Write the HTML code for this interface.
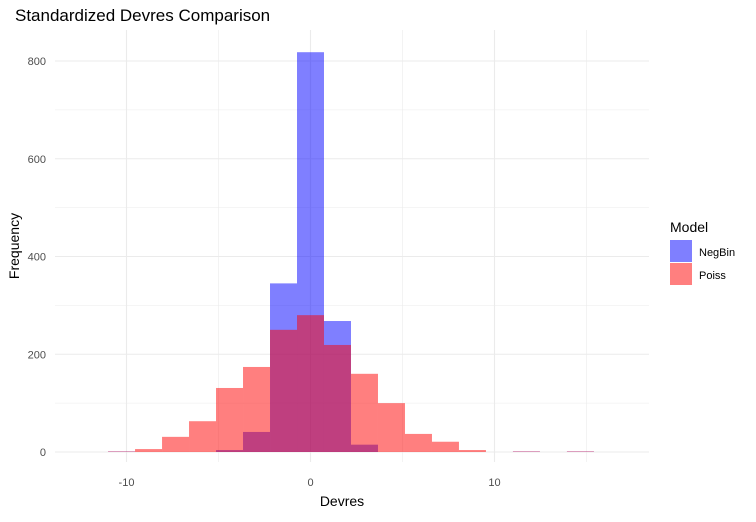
<!DOCTYPE html>
<html><head><meta charset="utf-8"><style>
body{margin:0;background:#fff;font-family:"Liberation Sans",sans-serif}
svg text{font-family:"Liberation Sans",sans-serif}
</style></head><body>
<svg id="chart" width="756" height="517">
<rect width="756" height="517" fill="#fff"/>
<g id="grid"></g><g id="bars"></g><g id="axes"></g>
<text x="15" y="21" font-size="17" fill="#000">Standardized Devres Comparison</text>
<text x="342" y="506" font-size="14" text-anchor="middle">Devres</text>
<text transform="translate(19,246) rotate(-90)" font-size="14" text-anchor="middle">Frequency</text>
<g>
<text x="670" y="232" font-size="14">Model</text>
<rect x="670" y="240" width="22" height="22" fill="rgba(0,0,255,0.5)"/>
<text x="699" y="256" font-size="11">NegBin</text>
<rect x="670" y="263" width="22" height="22" fill="rgba(255,0,0,0.5)"/>
<text x="699" y="279" font-size="11">Poiss</text>
</g>
</svg>
<script>
const binIndex=[-7,-6,-5,-4,-3,-2,-1,0,1,2,3,4,5,6,7,8,9,10];
const negbin=[1,0,0,0,4,41,345,818,268,15,0,0,0,0,0,1,0,1];
const poiss=[1,6,31,63,131,174,250,280,219,160,100,37,21,4,0,1,0,1];
const binWidth=1.467;
const xTicks=[-10,0,10];
const yTicks=[0,200,400,600,800];
const NS='http://www.w3.org/2000/svg';
const X0=55,X1=649,Y0=30,Y1=462;
const xs=v=>310.5+v*18.4;
const ys=v=>452-v*0.48875;
function mk(tag,attrs,parent){const e=document.createElementNS(NS,tag);for(const k in attrs)e.setAttribute(k,attrs[k]);parent.appendChild(e);return e;}
const grid=document.getElementById('grid');
for(let v=-15;v<=20;v+=5){const x=xs(v);if(x<X0||x>X1)continue;
 const l=mk('line',{x1:x,x2:x,y1:Y0,y2:Y1,stroke:'#ebebeb','stroke-width':v%10===0?1.1:0.6},grid);
 
 }
for(let v=0;v<=850;v+=100){const y=ys(v);if(y<Y0)continue;
 const l=mk('line',{x1:X0,x2:X1,y1:y,y2:y,stroke:'#ebebeb','stroke-width':v%200===0?1.1:0.6},grid);
 
 }
const bars=document.getElementById('bars');
function drawSeries(vals,color,name){vals.forEach((v,i)=>{if(v<=0)return;
 const c=binIndex[i]*binWidth;const xl=xs(c-binWidth/2),xr=xs(c+binWidth/2);
 const r=mk('rect',{x:xl,width:xr-xl,y:ys(v),height:ys(0)-ys(v),fill:color},bars);
 
 });}
drawSeries(negbin,'rgba(0,0,255,0.5)','negbin');
drawSeries(poiss,'rgba(255,0,0,0.5)','poiss');
const axes=document.getElementById('axes');
xTicks.forEach(v=>{const t=mk('text',{x:xs(v),y:486,'font-size':11,fill:'#4d4d4d','text-anchor':'middle'},axes);t.textContent=v;
 
 });
yTicks.forEach(v=>{const t=mk('text',{x:46,y:ys(v)+4,'font-size':11,fill:'#4d4d4d','text-anchor':'end'},axes);t.textContent=v;
 
 });
</script>
</body></html>
